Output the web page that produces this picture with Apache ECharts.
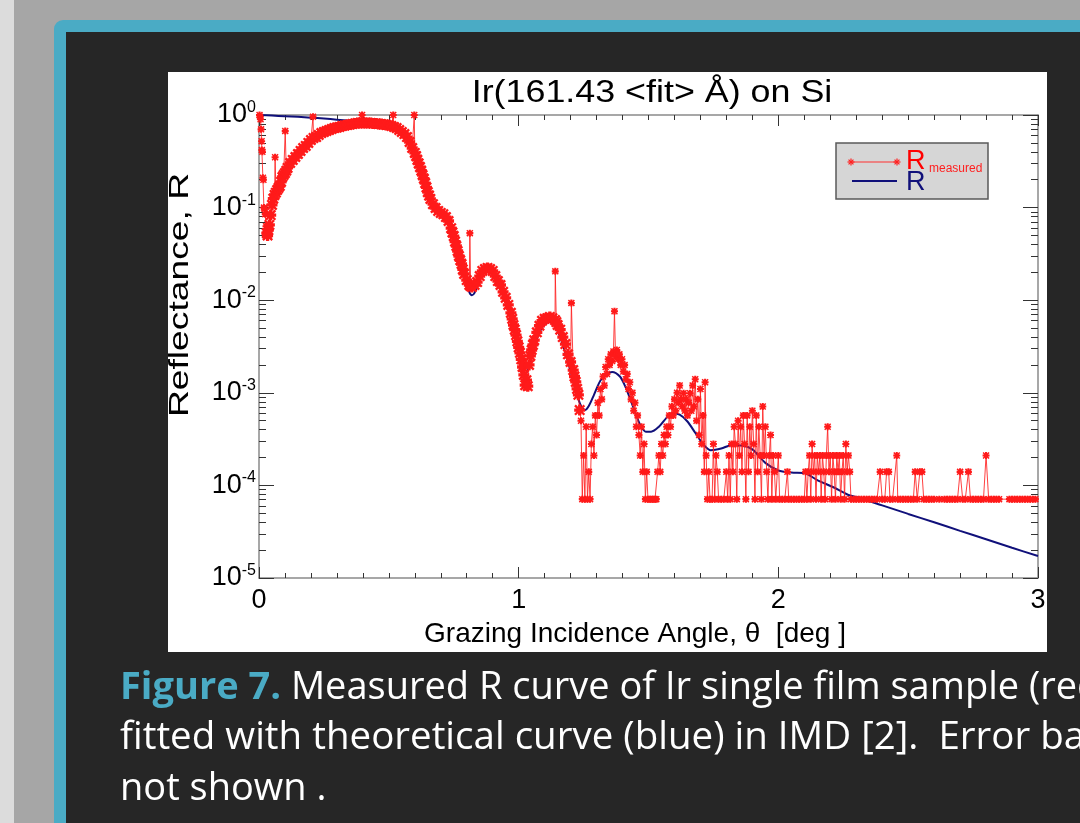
<!DOCTYPE html>
<html>
<head>
<meta charset="utf-8">
<title>Ir(161.43 fit) on Si</title>
<script src="https://cdn.jsdelivr.net/npm/echarts@6/dist/echarts.min.js"></script>
<style>
html, body { margin: 0; padding: 0; background: #a6a6a6; }
#main { width: 1080px; height: 823px; }
</style>
</head>
<body>
<div id="main"></div>
<script>
// measured reflectance [angle deg, R]
var measuredEdge = [
    [0.002, 1.0], [0.004, 0.96], [0.006, 0.90], [0.008, 0.70], [0.010, 0.52], [0.011, 0.42], [0.013, 0.40],
    [0.015, 0.21], [0.017, 0.20], [0.019, 0.10], [0.021, 0.097], [0.024, 0.085], [0.027, 0.063],
    [0.030, 0.053], [0.033, 0.050], [0.036, 0.057], [0.040, 0.065], [0.045, 0.083], [0.050, 0.107],
    [0.055, 0.125], [0.060, 0.137], [0.062, 0.35], [0.065, 0.145], [0.070, 0.155], [0.075, 0.163],
    [0.080, 0.171], [0.085, 0.19], [0.090, 0.214], [0.095, 0.225], [0.100, 0.236], [0.101, 0.67],
    [0.105, 0.25]
];
var measuredPlateau = [
    [0.11, 0.268], [0.12, 0.303], [0.13, 0.327], [0.14, 0.352], [0.15, 0.379], [0.16, 0.409], [0.17, 0.44],
    [0.18, 0.463], [0.19, 0.499], [0.20, 0.537], [0.208, 0.96], [0.21, 0.565], [0.22, 0.578], [0.23, 0.608],
    [0.24, 0.639], [0.25, 0.655], [0.26, 0.672], [0.27, 0.689], [0.28, 0.706], [0.29, 0.724], [0.30, 0.733],
    [0.31, 0.742], [0.32, 0.761], [0.33, 0.77], [0.34, 0.78], [0.35, 0.789], [0.36, 0.799], [0.37, 0.809],
    [0.38, 0.82], [0.39, 0.82], [0.397, 1.0], [0.40, 0.82], [0.41, 0.82], [0.42, 0.82], [0.43, 0.82],
    [0.44, 0.809], [0.45, 0.809], [0.46, 0.799], [0.47, 0.799], [0.48, 0.789], [0.49, 0.78], [0.50, 0.78],
    [0.51, 0.761], [0.517, 1.0], [0.52, 0.742], [0.53, 0.724], [0.54, 0.689], [0.55, 0.655], [0.56, 0.623],
    [0.57, 0.578], [0.58, 0.511], [0.59, 0.44], [0.598, 1.0], [0.60, 0.389]
];
var measuredFringes = [
    [0.605, 0.36], [0.61, 0.327], [0.615, 0.30], [0.62, 0.274], [0.625, 0.25], [0.63, 0.225], [0.635, 0.205],
    [0.64, 0.184], [0.645, 0.165], [0.65, 0.147], [0.655, 0.135], [0.66, 0.124], [0.67, 0.109],
    [0.68, 0.099], [0.69, 0.092], [0.70, 0.0875], [0.71, 0.085], [0.72, 0.079], [0.73, 0.0717], [0.74, 0.060],
    [0.745, 0.054], [0.75, 0.0493], [0.755, 0.043], [0.76, 0.0385], [0.765, 0.034], [0.77, 0.030],
    [0.775, 0.027], [0.78, 0.0246], [0.785, 0.0215], [0.79, 0.0192], [0.80, 0.0165],
    [0.81, 0.0146], [0.812, 0.053], [0.815, 0.0142], [0.82, 0.0139], [0.83, 0.0146], [0.84, 0.0157],
    [0.85, 0.0182], [0.86, 0.0207], [0.87, 0.0217], [0.88, 0.0223], [0.89, 0.0217], [0.90, 0.0207],
    [0.91, 0.0182], [0.92, 0.0161], [0.93, 0.0146], [0.94, 0.0123], [0.95, 0.0106], [0.96, 0.0089],
    [0.97, 0.0073], [0.975, 0.0063], [0.98, 0.0054], [0.985, 0.0048], [0.99, 0.0042], [0.995, 0.0036],
    [1.00, 0.0031], [1.005, 0.0027], [1.01, 0.0023], [1.015, 0.0019], [1.02, 0.00156],
    [1.025, 0.00121], [1.03, 0.00137], [1.035, 0.00118], [1.04, 0.0020], [1.045, 0.0025], [1.05, 0.0029],
    [1.055, 0.0033], [1.06, 0.0037], [1.07, 0.0045], [1.08, 0.0053], [1.09, 0.0060], [1.10, 0.0063],
    [1.11, 0.0064], [1.12, 0.0066], [1.13, 0.0064], [1.14, 0.0061], [1.141, 0.0205], [1.145, 0.0058],
    [1.15, 0.0054], [1.16, 0.0048], [1.17, 0.0040], [1.18, 0.00336], [1.19, 0.0026], [1.20, 0.00215],
    [1.203, 0.0093], [1.21, 0.00176], [1.215, 0.0015], [1.22, 0.00131], [1.225, 0.0011], [1.23, 0.00095],
    [1.235, 0.00065]
];
var measuredNoisy = [
    [1.240, 5.0e-4], [1.245, 7.1e-5], [1.250, 2.1e-4], [1.255, 7.1e-5], [1.260, 4.3e-4], [1.265, 7.1e-5],
    [1.270, 1.4e-4], [1.275, 7.1e-5], [1.280, 2.8e-4], [1.285, 4.3e-4], [1.290, 2.1e-4], [1.295, 5.7e-4],
    [1.300, 3.5e-4], [1.305, 7.8e-4], [1.310, 5.7e-4], [1.315, 1.1e-3], [1.320, 8.5e-4], [1.325, 1.5e-3],
    [1.330, 1.2e-3], [1.335, 1.9e-3], [1.340, 1.6e-3], [1.345, 2.3e-3], [1.350, 2.0e-3], [1.355, 2.6e-3],
    [1.360, 2.2e-3], [1.365, 2.8e-3], [1.369, 7.6e-3], [1.373, 2.5e-3], [1.378, 2.9e-3], [1.383, 2.3e-3],
    [1.388, 2.6e-3], [1.393, 2.0e-3], [1.398, 2.3e-3], [1.403, 1.7e-3], [1.408, 2.0e-3], [1.413, 1.4e-3],
    [1.418, 1.6e-3], [1.423, 1.1e-3], [1.428, 1.3e-3], [1.433, 8.5e-4], [1.438, 1.0e-3], [1.443, 6.4e-4],
    [1.448, 7.8e-4], [1.453, 4.3e-4], [1.458, 5.7e-4], [1.463, 3.5e-4], [1.468, 2.1e-4], [1.473, 4.3e-4],
    [1.478, 1.4e-4], [1.483, 2.8e-4], [1.488, 7.1e-5], [1.493, 1.4e-4], [1.498, 7.1e-5], [1.505, 7.1e-5],
    [1.512, 7.1e-5], [1.518, 7.1e-5], [1.525, 7.1e-5], [1.530, 7.1e-5], [1.535, 1.4e-4], [1.540, 2.1e-4],
    [1.545, 1.4e-4], [1.550, 2.8e-4], [1.555, 2.1e-4], [1.560, 3.5e-4], [1.565, 2.8e-4], [1.570, 4.3e-4],
    [1.575, 3.5e-4], [1.580, 5.7e-4], [1.585, 4.3e-4], [1.590, 7.1e-4], [1.595, 5.7e-4], [1.600, 8.5e-4],
    [1.605, 6.4e-4], [1.610, 1.0e-3], [1.615, 7.8e-4], [1.620, 1.2e-3], [1.625, 8.5e-4], [1.630, 7.1e-4],
    [1.635, 9.9e-4], [1.640, 6.4e-4], [1.645, 8.5e-4], [1.650, 5.7e-4], [1.655, 7.8e-4], [1.660, 9.9e-4],
    [1.665, 6.4e-4], [1.670, 1.2e-3], [1.675, 7.1e-4], [1.680, 1.4e-3], [1.685, 5.0e-4], [1.690, 8.5e-4],
    [1.695, 3.5e-4], [1.700, 1.1e-3], [1.705, 2.8e-4], [1.710, 5.7e-4], [1.715, 1.4e-4], [1.718, 1.3e-3],
    [1.722, 2.1e-4], [1.727, 7.1e-5], [1.732, 1.4e-4], [1.737, 7.1e-5], [1.745, 7.1e-5], [1.750, 2.8e-4],
    [1.755, 7.1e-5], [1.760, 2.1e-4], [1.765, 1.4e-4], [1.770, 7.1e-5], [1.780, 7.1e-5], [1.790, 7.1e-5],
    [1.800, 1.4e-4], [1.805, 7.1e-5], [1.810, 2.1e-4], [1.815, 7.1e-5], [1.820, 2.8e-4], [1.825, 1.4e-4],
    [1.830, 4.3e-4], [1.835, 2.8e-4], [1.840, 7.1e-5], [1.845, 5.0e-4], [1.850, 2.1e-4], [1.855, 4.3e-4],
    [1.860, 1.4e-4], [1.865, 5.7e-4], [1.870, 2.8e-4], [1.875, 7.1e-5], [1.880, 5.7e-4], [1.885, 1.4e-4],
    [1.890, 4.3e-4], [1.895, 2.1e-4], [1.900, 6.4e-4], [1.905, 2.8e-4], [1.910, 7.1e-5], [1.915, 5.7e-4],
    [1.920, 1.4e-4], [1.925, 4.3e-4], [1.930, 2.1e-4], [1.935, 7.1e-5], [1.940, 7.1e-4], [1.945, 2.1e-4],
    [1.950, 4.3e-4], [1.955, 1.4e-4], [1.960, 7.1e-5], [1.965, 2.1e-4], [1.970, 3.5e-4], [1.975, 7.1e-5],
    [1.980, 2.1e-4], [1.985, 1.4e-4], [1.990, 7.1e-5]
];
var measuredTail = [
    [2.000, 2.1e-4], [2.005, 7.1e-5], [2.015, 7.1e-5], [2.025, 7.1e-5], [2.035, 1.4e-4], [2.040, 7.1e-5],
    [2.050, 7.1e-5], [2.060, 7.1e-5], [2.070, 7.1e-5], [2.080, 7.1e-5], [2.090, 7.1e-5], [2.100, 7.1e-5],
    [2.105, 1.4e-4], [2.110, 7.1e-5], [2.115, 1.4e-4], [2.120, 2.1e-4], [2.125, 7.1e-5], [2.130, 2.8e-4],
    [2.135, 1.4e-4], [2.140, 2.1e-4], [2.145, 7.1e-5], [2.150, 2.1e-4], [2.155, 1.4e-4], [2.160, 2.1e-4],
    [2.165, 7.1e-5], [2.170, 2.1e-4], [2.175, 1.4e-4], [2.180, 7.1e-5], [2.185, 2.1e-4], [2.190, 4.3e-4],
    [2.195, 1.4e-4], [2.200, 2.1e-4], [2.205, 7.1e-5], [2.210, 2.1e-4], [2.215, 1.4e-4], [2.220, 7.1e-5],
    [2.225, 2.1e-4], [2.230, 1.4e-4], [2.235, 2.1e-4], [2.240, 7.1e-5], [2.245, 1.4e-4], [2.250, 2.1e-4],
    [2.255, 7.1e-5], [2.260, 2.8e-4], [2.265, 1.4e-4], [2.270, 2.1e-4], [2.275, 1.4e-4], [2.280, 7.1e-5],
    [2.29, 7.1e-5], [2.30, 7.1e-5], [2.31, 7.1e-5], [2.32, 7.1e-5], [2.33, 7.1e-5], [2.34, 7.1e-5],
    [2.35, 7.1e-5], [2.36, 7.1e-5], [2.37, 7.1e-5], [2.38, 7.1e-5], [2.392, 1.4e-4],
    [2.40, 7.1e-5], [2.41, 7.1e-5], [2.417, 1.4e-4], [2.425, 1.4e-4], [2.43, 7.1e-5], [2.44, 7.1e-5],
    [2.456, 2.1e-4], [2.46, 7.1e-5], [2.47, 7.1e-5], [2.48, 7.1e-5], [2.49, 7.1e-5], [2.50, 7.1e-5],
    [2.51, 7.1e-5], [2.52, 7.1e-5], [2.527, 1.4e-4],
    [2.535, 7.1e-5], [2.545, 1.4e-4], [2.553, 1.4e-4], [2.56, 7.1e-5], [2.57, 7.1e-5], [2.58, 7.1e-5],
    [2.59, 7.1e-5], [2.60, 7.1e-5], [2.62, 7.1e-5], [2.64, 7.1e-5], [2.65, 7.1e-5], [2.66, 7.1e-5],
    [2.67, 7.1e-5], [2.68, 7.1e-5], [2.69, 7.1e-5], [2.70, 1.4e-4], [2.71, 7.1e-5],
    [2.72, 7.1e-5], [2.732, 1.4e-4], [2.74, 7.1e-5], [2.75, 7.1e-5], [2.76, 7.1e-5], [2.77, 7.1e-5],
    [2.78, 7.1e-5], [2.79, 7.1e-5], [2.80, 2.1e-4], [2.81, 7.1e-5], [2.82, 7.1e-5], [2.83, 7.1e-5],
    [2.84, 7.1e-5], [2.85, 7.1e-5], [2.89, 7.1e-5], [2.90, 7.1e-5], [2.91, 7.1e-5], [2.92, 7.1e-5],
    [2.93, 7.1e-5], [2.94, 7.1e-5], [2.95, 7.1e-5], [2.96, 7.1e-5], [2.97, 7.1e-5], [2.98, 7.1e-5],
    [2.99, 7.1e-5]
];
// isolated outliers above the dense band (angles), drawn with the small star
var spikeAngles = [0.062, 0.101, 0.208, 0.397, 0.517, 0.598, 0.812, 1.141, 1.203];

// IMD fit
var fitCurve = [
    [0.00, 1.0], [0.05, 0.985], [0.10, 0.97], [0.15, 0.955], [0.20, 0.935], [0.25, 0.915], [0.30, 0.89],
    [0.35, 0.865], [0.40, 0.835], [0.45, 0.80], [0.50, 0.76], [0.53, 0.72], [0.55, 0.66], [0.57, 0.58],
    [0.59, 0.46], [0.61, 0.34], [0.63, 0.235], [0.65, 0.155], [0.67, 0.113], [0.69, 0.095], [0.71, 0.086],
    [0.73, 0.074], [0.75, 0.052], [0.77, 0.031], [0.79, 0.0185], [0.81, 0.0122], [0.82, 0.0113],
    [0.83, 0.012], [0.85, 0.0165], [0.87, 0.0205], [0.89, 0.0215], [0.91, 0.019], [0.93, 0.0145],
    [0.95, 0.0098], [0.97, 0.0062], [0.99, 0.0036], [1.01, 0.0021], [1.025, 0.0016], [1.04, 0.0019],
    [1.06, 0.0031], [1.08, 0.0045], [1.10, 0.0055], [1.12, 0.0058], [1.14, 0.0052], [1.16, 0.0040],
    [1.18, 0.0027], [1.20, 0.0017], [1.22, 0.00105], [1.24, 0.00072], [1.255, 0.00065], [1.27, 0.00072],
    [1.29, 0.00095], [1.31, 0.00128], [1.33, 0.00155], [1.36, 0.00168], [1.39, 0.0015], [1.41, 0.00118],
    [1.43, 0.00085], [1.45, 0.0006], [1.47, 0.00044], [1.49, 0.00038], [1.51, 0.00038], [1.54, 0.00043],
    [1.57, 0.00054], [1.59, 0.0006], [1.62, 0.00058], [1.65, 0.00049], [1.68, 0.00037], [1.71, 0.00028],
    [1.74, 0.00024], [1.78, 0.00025], [1.82, 0.000272], [1.86, 0.00027], [1.90, 0.000245], [1.95, 0.000175],
    [2.00, 0.000145], [2.05, 0.000138], [2.10, 0.000136], [2.15, 0.000114], [2.21, 0.0000961],
    [2.27, 0.0000787], [2.30, 0.000075], [2.40, 0.0000608], [2.50, 0.0000492], [2.60, 0.00004],
    [2.70, 0.0000323], [2.80, 0.0000262], [2.90, 0.0000212], [3.00, 0.0000173]
];

var captionLines = [
    '{f|Figure 7.} Measured R curve of Ir single film sample (red)',
    'fitted with theoretical curve (blue) in IMD [2].  Error bars',
    'not shown .'
];

var star = 'M0,3.5L10,3.5L10,6.5L0,6.5Z M3.5,0L6.5,0L6.5,10L3.5,10Z M1.5,0L10,8.5L8.5,10L0,1.5Z M8.5,0L10,1.5L1.5,10L0,8.5Z';
var font = '"Liberation Sans", Arial, sans-serif';
var capFont = '"Open Sans", "Noto Sans", sans-serif';

// minor log ticks 2..9 of every decade
var minorY = [];
for (var d = -5; d < 0; d++) {
    for (var m = 2; m < 10; m++) minorY.push(+(m * Math.pow(10, d)).toPrecision(3));
}

// little asterisk for the legend, made of 4 strokes
function legendStar(cx, cy, r) {
    var out = [];
    [[r, 0], [0, r], [r * 0.7, r * 0.7], [r * 0.7, -r * 0.7]].forEach(function (p) {
        out.push({ type: 'line', z: 12, shape: { x1: cx - p[0], y1: cy - p[1], x2: cx + p[0], y2: cy + p[1] },
                   style: { stroke: '#ff2020', lineWidth: 1.2 } });
    });
    return out;
}

var dom = document.getElementById('main');
var myChart = echarts.init(dom);

function yAxisOf(pos, minor) {
    return {
        type: 'log', logBase: 10, min: 1e-5, max: 1, position: pos,
        axisLine: { show: !minor, lineStyle: { color: '#8a8a8a', width: 1.5 } },
        axisTick: minor ? { inside: true, length: 7, customValues: minorY, lineStyle: { color: '#333' } }
                        : { inside: true, length: 15, lineStyle: { color: '#333' } },
        axisLabel: {
            show: pos === 'left' && !minor, margin: 3,
            formatter: function (v) {
                return '{b|10}{s|' + Math.round(Math.log10(v)) + '}';
            },
            rich: {
                b: { fontSize: 27, fontFamily: font, color: '#000' },
                s: { fontSize: 16, fontFamily: font, color: '#000', padding: [0, 0, 15, 0] }
            }
        },
        splitLine: { show: false }
    };
}
function xAxisOf(pos) {
    return {
        type: 'value', min: 0, max: 3, interval: 1, position: pos,
        axisLine: { lineStyle: { color: '#8a8a8a', width: 1.5 } },
        axisTick: { inside: true, length: 11, lineStyle: { color: '#333' } },
        minorTick: { show: true, splitNumber: 10, length: 5, lineStyle: { color: '#333' } },
        axisLabel: { show: pos === 'bottom', margin: 9, fontSize: 27, fontFamily: font, color: '#000' },
        splitLine: { show: false }
    };
}

var graphics = [
    { type: 'rect', z: -20, shape: { x: 0, y: 0, width: 14, height: 823 }, style: { fill: '#dcdcdc' } },
    { type: 'rect', z: -19, shape: { x: 54, y: 20, width: 1100, height: 900, r: 9 }, style: { fill: '#4aabc5' } },
    { type: 'rect', z: -18, shape: { x: 66, y: 32, width: 1100, height: 900 }, style: { fill: '#262626' } },
    { type: 'rect', z: -17, shape: { x: 168, y: 72, width: 879, height: 580 }, style: { fill: '#ffffff' } },
    { type: 'text', z: 10, x: 652, y: 93, scaleX: 1.12,
      style: { text: 'Ir(161.43 <fit> Å) on Si', font: '32px ' + font, fill: '#000', textAlign: 'center', textVerticalAlign: 'middle' } },
    { type: 'text', z: 10, x: 635, y: 634,
      style: { text: 'Grazing Incidence Angle, θ  [deg ]', font: '28px ' + font, fill: '#000', textAlign: 'center', textVerticalAlign: 'middle' } },
    { type: 'text', z: 10, x: 180, y: 295, rotation: Math.PI / 2, scaleX: 1.33,
      style: { text: 'Reflectance, R', font: '28px ' + font, fill: '#000', textAlign: 'center', textVerticalAlign: 'middle' } },
    // legend box
    { type: 'rect', z: 10, shape: { x: 836, y: 143, width: 152, height: 56 }, style: { fill: '#d6d6d6', stroke: '#5a5a5a', lineWidth: 1.5 } },
    { type: 'line', z: 11, shape: { x1: 851, y1: 162, x2: 897, y2: 162 }, style: { stroke: '#ff3030', lineWidth: 1 } },
    { type: 'line', z: 11, shape: { x1: 852, y1: 181, x2: 897, y2: 181 }, style: { stroke: '#10107a', lineWidth: 2 } },
    { type: 'text', z: 11, x: 906, y: 162,
      style: { text: 'R', font: '27px ' + font, fill: '#ff0000', textVerticalAlign: 'middle' } },
    { type: 'text', z: 11, x: 929, y: 169,
      style: { text: 'measured', font: '12px ' + font, fill: '#ff2020', textVerticalAlign: 'middle' } },
    { type: 'text', z: 11, x: 906, y: 183,
      style: { text: 'R', font: '27px ' + font, fill: '#10107a', textVerticalAlign: 'middle' } },
    // caption
    { type: 'text', z: 10, x: 120, y: 688,
      style: { text: captionLines[0], font: '38px ' + capFont, fill: '#ffffff', textVerticalAlign: 'middle',
               rich: { f: { fill: '#4aabc5', fontWeight: 'bold', fontSize: 38, fontFamily: capFont } } } },
    { type: 'text', z: 10, x: 120, y: 738,
      style: { text: captionLines[1], font: '38.5px ' + capFont, fill: '#ffffff', textVerticalAlign: 'middle' } },
    { type: 'text', z: 10, x: 120, y: 789,
      style: { text: captionLines[2], font: '38px ' + capFont, fill: '#ffffff', textVerticalAlign: 'middle' } }
].concat(legendStar(851, 162, 3.5), legendStar(897, 162, 3.5));

var option = {
    animation: false,
    backgroundColor: '#a6a6a6',
    grid: { left: 259, right: 42, top: 115, bottom: 245, containLabel: false },
    xAxis: [xAxisOf('bottom'), xAxisOf('top')],
    yAxis: [yAxisOf('left', false), yAxisOf('left', true), yAxisOf('right', false), yAxisOf('right', true)],
    graphic: graphics,
    series: [
        {
            name: 'R', type: 'line', xAxisIndex: 0, yAxisIndex: 0, z: 2,
            data: fitCurve, smooth: 0.3, symbol: 'none',
            lineStyle: { color: '#10107a', width: 2 }
        },
        {
            name: 'R measured', type: 'line', xAxisIndex: 0, yAxisIndex: 0, z: 3,
            data: [].concat(measuredEdge, measuredPlateau, measuredFringes, measuredNoisy, measuredTail),
            symbol: 'path://' + star, showAllSymbol: true,
            // the dense low-angle points overlap into a thick band, outliers keep the small star
            symbolSize: function (v) {
                if (spikeAngles.indexOf(v[0]) >= 0 || v[0] < 0.03) return 7;
                return v[0] < 1.24 ? 11 : 7;
            },
            itemStyle: { color: '#ff1a1a' },
            lineStyle: { color: '#ff2020', width: 1, opacity: 0.85 }
        }
    ]
};
myChart.setOption(option);
</script>
</body>
</html>
